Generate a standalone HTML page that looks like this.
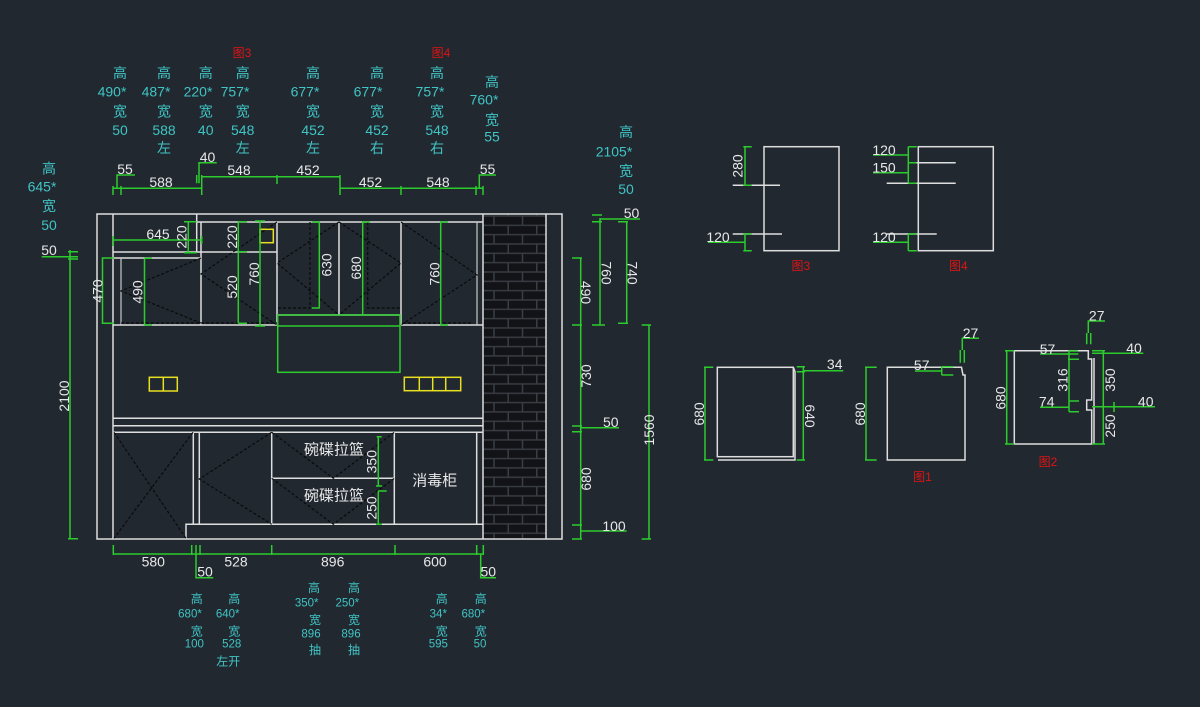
<!DOCTYPE html>
<html>
<head>
<meta charset="utf-8">
<style>
html,body{margin:0;padding:0;background:#212830;}
svg{display:block;}
.w{stroke:#dedede;stroke-width:1.5;fill:none;}
.wt{stroke:#c8c8c8;stroke-width:1.2;fill:none;}
.g{stroke:#2ccc2c;stroke-width:1.5;fill:none;}
.d{stroke:#0a0a0a;stroke-width:1.2;stroke-dasharray:3 2;fill:none;}
.y{stroke:#e8e020;stroke-width:1.5;fill:none;}
text{font-family:"Liberation Sans","Noto Sans CJK SC",sans-serif;}
.c{fill:#40c4c4;font-size:14px;}
.cs{fill:#40c4c4;font-size:12px;}
.cn{fill:#40c4c4;font-size:11.5px;}
.t{fill:#e8e8e8;font-size:14px;}
.tl{fill:#e8e8e8;font-size:15px;}
.r{fill:#e01414;font-size:12px;}
</style>
</head>
<body>
<svg width="1200" height="707" viewBox="0 0 1200 707" xmlns="http://www.w3.org/2000/svg">
<defs>
<pattern id="br" patternUnits="userSpaceOnUse" x="465.5" y="216" width="28.5" height="18.66">
<rect width="28.5" height="18.66" fill="#3a3e44"/>
<rect x="0.75" y="0.7" width="27" height="7.93" fill="#111316"/>
<rect x="-13.5" y="10.03" width="27" height="7.93" fill="#111316"/>
<rect x="15" y="10.03" width="27" height="7.93" fill="#111316"/>
</pattern>
</defs>
<rect width="1200" height="707" fill="#212830"/>

<!-- ===== TOP CYAN LABELS ===== -->
<g class="c" text-anchor="middle">
<text x="120" y="78">高</text><text x="112" y="96.5">490*</text><text x="120" y="116.5">宽</text><text x="120" y="135">50</text>
<text x="164" y="78">高</text><text x="156" y="96.5">487*</text><text x="164" y="116.5">宽</text><text x="164" y="135">588</text><text x="164" y="153">左</text>
<text x="205.7" y="78">高</text><text x="198" y="96.5">220*</text><text x="205.7" y="116.5">宽</text><text x="205.7" y="135">40</text>
<text x="242.7" y="78">高</text><text x="235" y="96.5">757*</text><text x="242.7" y="116.5">宽</text><text x="242.7" y="135">548</text><text x="242.7" y="153">左</text>
<text x="313" y="78">高</text><text x="305" y="96.5">677*</text><text x="313" y="116.5">宽</text><text x="313" y="135">452</text><text x="313" y="153">左</text>
<text x="377" y="78">高</text><text x="368" y="96.5">677*</text><text x="377" y="116.5">宽</text><text x="377" y="135">452</text><text x="377" y="153">右</text>
<text x="437" y="78">高</text><text x="430" y="96.5">757*</text><text x="437" y="116.5">宽</text><text x="437" y="135">548</text><text x="437" y="153">右</text>
<text x="492" y="87">高</text><text x="484" y="104.5">760*</text><text x="492" y="125">宽</text><text x="492" y="141.7">55</text>
<text x="49" y="173.5">高</text><text x="42" y="191.7">645*</text><text x="49" y="211">宽</text><text x="49" y="230">50</text>
<text x="626" y="137">高</text><text x="614" y="156.7">2105*</text><text x="626" y="176">宽</text><text x="626" y="194">50</text>
</g>
<g class="r" text-anchor="middle">
<text x="242" y="57">图3</text><text x="441" y="57">图4</text>
</g>

<!-- ===== TOP DIMENSIONS ===== -->
<g class="g">
<path d="M201.7 176.7H340"/>
<path d="M201.7 175V184M277 175V184M340 175V195"/>
<path d="M199 183.3V162.7H216.7M196.7 175V183.3"/>
<path d="M113 188.3H201.7M340 188.3H483"/>
<path d="M113 186V195M121 186V195M201.7 184V195M401 186V195M476 186V195M483 186V195"/>
<path d="M117 188.3V175H135"/>
<path d="M479.3 188.3V175H496"/>
</g>
<g class="t" text-anchor="middle">
<text x="125" y="174">55</text>
<text x="161" y="187">588</text>
<text x="207.5" y="162">40</text>
<text x="239" y="175">548</text>
<text x="308" y="175">452</text>
<text x="370.5" y="187">452</text>
<text x="438" y="187">548</text>
<text x="487.5" y="174">55</text>
</g>

<!-- ===== LEFT DIMENSIONS ===== -->
<g class="g">
<path d="M41.7 256.7H78"/>
<path d="M70 250V538.7"/>
<path d="M68 251.7H78M68 259H78M68 538.7H78"/>
</g>
<text class="t" x="49" y="255" text-anchor="middle">50</text>
<text class="t" transform="translate(63.8,396) rotate(-90)" y="5" text-anchor="middle">2100</text>

<!-- ===== BRICK WALL ===== -->
<rect x="483" y="214" width="63" height="325" fill="url(#br)"/>

<!-- ===== MAIN CABINET WHITE LINES ===== -->
<g class="w">
<rect x="97" y="214" width="465" height="325"/>
<path d="M113 214V539"/>
<path d="M483 214V539M546 214V539"/>
<path d="M196.7 214V252"/>
<path d="M196.7 222H483"/>
<path d="M113 252H277"/>
<path d="M113 258H201"/>
<path d="M201 222V325M277 222V325M339 222V315M401 222V325"/>
<path d="M113 325H277M401 325H483"/>
<path d="M277 315H401"/>
<path d="M113 418.3H483M113 425.7H483M113 432.3H483"/>
<path d="M193.3 432.3V524.3M199.3 432.3V524.3"/>
<path d="M186 539V524.3H483"/>
<path d="M271.7 432.3V524.3M394.3 432.3V524.3M476.7 432.3V524.3"/>
<path d="M271.7 478.3H394.3"/>
</g>
<g class="wt">
<path d="M121 258V325"/>
<path d="M477 222V325"/>
</g>

<!-- dashed door marks -->
<g class="d">
<path d="M201 258L121 291L201 323"/>
<path d="M121 323H201"/>
<path d="M277 222L201 274L277 325"/>
<path d="M201 323H277"/>
<path d="M339 222L277 263L339 315"/>
<path d="M310 222V308H277"/>
<path d="M339 222L401 263L339 315"/>
<path d="M367.7 222V308H401"/>
<path d="M401 222L477 275L401 325"/>
<path d="M403 323H472"/>
<path d="M114 432.3L186 538.3M193 432.3L114 538.3"/>
<path d="M271.7 432.3L199.3 479L271.7 524.3"/>
<path d="M271.7 432.3L333.3 478.3L394.3 432.3"/>
<path d="M271.7 478.3L333.3 524.3L394.3 478.3"/>
</g>

<!-- yellow -->
<g class="y">
<rect x="260" y="229.3" width="13.3" height="13.4"/>
<rect x="149.3" y="377.3" width="28" height="13.7"/>
<path d="M163.3 377.3V391"/>
<rect x="404.3" y="377.3" width="56.4" height="13.4"/>
<path d="M419.3 377.3V390.7M432.7 377.3V390.7M445.7 377.3V390.7"/>
</g>

<!-- green in cabinets -->
<g class="g">
<path d="M113.3 240H201.7"/>
<path d="M113.3 236V246M201.7 236V244"/>
<path d="M188.3 221.7V252.7M184 221.7H196.7M184 252.7H196.7"/>
<path d="M238.3 221.7V323.3M238.3 221.7H247M238.3 251.7H247M238.3 323.3H247"/>
<path d="M260 221V326M255 221H265M255 326H265"/>
<path d="M144.5 258.3V325M144.5 258.3H152M144.5 325H152"/>
<path d="M102.5 258V323.3M101.7 258H114M101.7 323.3H114"/>
<path d="M319.3 222V308M311.7 222H320M311.7 308H320"/>
<path d="M362.7 222V315M361.7 222H370"/>
<path d="M440.7 222V325M440 222H448M440 325H448"/>
<rect x="277.7" y="315" width="122.3" height="57.3"/>
<path d="M277.7 326H400"/>
<path d="M378.3 436.7V486M376.7 436.7H381.7M376 486H382"/>
<path d="M378.3 491V524.3M378 491H386.7M376 524.3H382"/>
</g>

<!-- cabinet dimension texts -->
<g class="t" text-anchor="middle">
<text x="158" y="239">645</text>
<text transform="translate(181.7,237) rotate(-90)" y="5">220</text>
<text transform="translate(232,237) rotate(-90)" y="5">220</text>
<text transform="translate(232,287) rotate(-90)" y="5">520</text>
<text transform="translate(254,274) rotate(-90)" y="5">760</text>
<text transform="translate(137.7,292) rotate(-90)" y="5">490</text>
<text transform="translate(97.5,291) rotate(-90)" y="5">470</text>
<text transform="translate(326.7,265) rotate(-90)" y="5">630</text>
<text transform="translate(356,268) rotate(-90)" y="5">680</text>
<text transform="translate(434.5,274) rotate(-90)" y="5">760</text>
<text transform="translate(371.3,461.7) rotate(-90)" y="5">350</text>
<text transform="translate(371.3,508) rotate(-90)" y="5">250</text>
</g>
<g class="tl" text-anchor="middle">
<text x="334" y="454.5">碗碟拉篮</text>
<text x="334" y="500.5">碗碟拉篮</text>
<text x="434.7" y="485.5">消毒柜</text>
</g>

<!-- ===== RIGHT DIMENSIONS ===== -->
<g class="g">
<path d="M600 218V325M592 215H602M592 221.7H602M592 325H605"/>
<path d="M600 219H640"/>
<path d="M626.7 221.7V323.3M618 221.7H628M618 323.3H628"/>
<path d="M580.7 258V539"/>
<path d="M572 258H582M572 325H582M572 426H582M572 431.7H582M572 525H582M572 539H582"/>
<path d="M580.7 427.7H619"/>
<path d="M580.7 531H626.7"/>
<path d="M649 325V539M641.7 325H651M641.7 539H651"/>
</g>
<g class="t" text-anchor="middle">
<text x="631.5" y="218">50</text>
<text transform="translate(606.5,273) rotate(90)" y="5">760</text>
<text transform="translate(632.5,273) rotate(90)" y="5">740</text>
<text transform="translate(586,292.5) rotate(90)" y="5">490</text>
<text transform="translate(586,376) rotate(-90)" y="5">730</text>
<text x="610.8" y="427">50</text>
<text transform="translate(586,479) rotate(-90)" y="5">680</text>
<text x="614" y="531">100</text>
<text transform="translate(649,430) rotate(-90)" y="5">1560</text>
</g>

<!-- ===== BOTTOM DIMENSIONS ===== -->
<g class="g">
<path d="M113.3 554H483.3"/>
<path d="M113.3 545V555M191.7 545V555M196 545V555M200 545V555M271.7 545V555M395 545V555M476.7 545V555M483.3 545V555"/>
<path d="M196 554V577.7H213.3"/>
<path d="M480.7 554V577.7H496"/>
</g>
<g class="t" text-anchor="middle">
<text x="153.3" y="566.7">580</text>
<text x="236" y="566.7">528</text>
<text x="332.7" y="566.7">896</text>
<text x="435" y="566.7">600</text>
<text x="205" y="576.5">50</text>
<text x="488.3" y="576.5">50</text>
</g>
<g text-anchor="middle">
<text class="cs" x="196.7" y="602.8">高</text><text class="cn" x="190" y="617.3">680*</text><text class="cs" x="196.7" y="635.5">宽</text><text class="cn" x="194.3" y="647.3">100</text>
<text class="cs" x="234.3" y="602.8">高</text><text class="cn" x="227.7" y="617.3">640*</text><text class="cs" x="234.3" y="635.5">宽</text><text class="cn" x="231.7" y="647.3">528</text><text class="cs" x="228.3" y="665.5">左开</text>
<text class="cs" x="314" y="592.2">高</text><text class="cn" x="306.7" y="606.7">350*</text><text class="cs" x="315" y="623.8">宽</text><text class="cn" x="311" y="637.7">896</text><text class="cs" x="315" y="653.8">抽</text>
<text class="cs" x="354" y="592.2">高</text><text class="cn" x="347.3" y="606.7">250*</text><text class="cs" x="354" y="623.8">宽</text><text class="cn" x="351" y="637.7">896</text><text class="cs" x="354" y="653.8">抽</text>
<text class="cs" x="441.7" y="602.8">高</text><text class="cn" x="438.3" y="617.3">34*</text><text class="cs" x="441.7" y="635.5">宽</text><text class="cn" x="438.3" y="647.3">595</text>
<text class="cs" x="480.7" y="602.8">高</text><text class="cn" x="473.3" y="617.3">680*</text><text class="cs" x="480.7" y="635.5">宽</text><text class="cn" x="480" y="647.3">50</text>
</g>

<!-- ===== FIG 3 & FIG 4 ===== -->
<g class="w">
<rect x="764" y="146.7" width="75" height="104"/>
<path d="M732.7 185.3H780M732.7 234H782"/>
<rect x="918.3" y="146.7" width="75" height="104"/>
<path d="M908 162.7H955.7M886.7 183.3H955.7M886.7 234H936.7"/>
</g>
<g class="g">
<path d="M745 146.7V185.3M743.3 146.7H751.7M743.3 185.3H751.7"/>
<path d="M745 234V250.7M743.3 234H751.7M743.3 250.7H751.7M708 242.3H745"/>
<path d="M908.3 146.7V183.3M908.3 146.7H916.7M908.3 162.7H916.7M908.3 183.3H916.7"/>
<path d="M873 155H908.3M873 172.7H908.3"/>
<path d="M908.3 234V250.7M908.3 234H916.7M908.3 250.7H916.7M873 242.3H908.3"/>
</g>
<g class="t" text-anchor="middle">
<text transform="translate(737.7,166) rotate(-90)" y="5">280</text>
<text x="718" y="242">120</text>
<text x="884" y="155">120</text>
<text x="884" y="172.5">150</text>
<text x="884" y="242">120</text>
</g>
<g class="r" text-anchor="middle">
<text x="800.8" y="270">图3</text>
<text x="958.3" y="270">图4</text>
</g>

<!-- ===== FIG 1 area ===== -->
<g class="w">
<rect x="717.3" y="367.3" width="76" height="89.4"/>
<path d="M793.3 367.3L795 371.7V460H718"/>
<path d="M887.3 367.3H961.5L963 375H965V460H887.3Z"/>
</g>
<g class="g">
<path d="M705 367.3V460M704 367.3H713.3M704 460H713.3"/>
<path d="M803.3 366.7V460M796.7 366.7H805M796.7 371.7H805M796.7 460H805"/>
<path d="M803.3 370.7H843.3"/>
<path d="M866 367.3V460M865 367.3H876.7M865 460H876.7"/>
<path d="M915 371H941.7M941.7 366.7V375M941.7 366.7H953.3M941.7 375H953.3"/>
<path d="M962.3 350V338.3H979M960.3 350V362.7M964.3 350V362.7"/>
</g>
<g class="t" text-anchor="middle">
<text transform="translate(699,414) rotate(-90)" y="5">680</text>
<text transform="translate(810,416) rotate(90)" y="5">640</text>
<text x="834.7" y="369">34</text>
<text transform="translate(860,414) rotate(-90)" y="5">680</text>
<text x="921.7" y="370">57</text>
<text x="970.5" y="338">27</text>
</g>
<text class="r" x="922.5" y="481" text-anchor="middle">图1</text>

<!-- ===== FIG 2 ===== -->
<g class="w">
<path d="M1014.3 350.7H1088.3V359H1091.7V400H1086.7V410H1091.7V444H1014.3Z"/>
<path d="M1094 358V444"/>
</g>
<g class="g">
<path d="M1006.7 350.7V444M1005 350.7H1014.3M1005 444H1014.3"/>
<path d="M1040 354H1078.3M1068 351H1078M1068 359.3H1079"/>
<path d="M1069 351V411.7M1069 401H1079M1069 411.7H1079"/>
<path d="M1040 407.3H1069"/>
<path d="M1103.3 350.7V444M1092 350.7H1105M1092 444H1105"/>
<path d="M1092 353.3H1143.3"/>
<path d="M1092 406.7H1155M1114 402V412"/>
<path d="M1088.3 333V321H1105M1086.7 333V344.3M1090.7 333V344.3"/>
</g>
<g class="t" text-anchor="middle">
<text transform="translate(1000.5,398) rotate(-90)" y="5">680</text>
<text x="1047.5" y="354">57</text>
<text transform="translate(1062.5,380) rotate(-90)" y="5">316</text>
<text x="1046.7" y="406.5">74</text>
<text transform="translate(1110,380) rotate(-90)" y="5">350</text>
<text transform="translate(1110,426) rotate(-90)" y="5">250</text>
<text x="1134" y="353">40</text>
<text x="1145.7" y="406.5">40</text>
<text x="1096.7" y="320.5">27</text>
</g>
<text class="r" x="1048" y="466" text-anchor="middle">图2</text>
</svg>
</body>
</html>
